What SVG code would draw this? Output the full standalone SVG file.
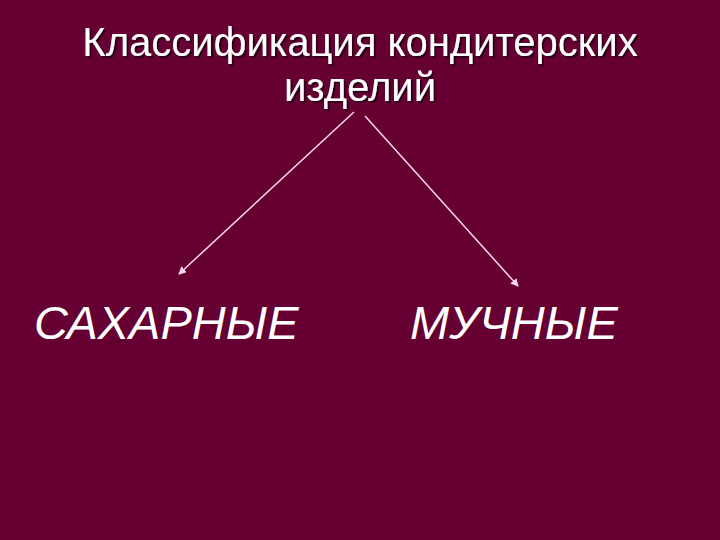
<svg xmlns="http://www.w3.org/2000/svg" width="720" height="540" viewBox="0 0 720 540">
<defs>
<style>
.t{font-family:"Liberation Sans",Arial,sans-serif;fill:#ffffff;}
.c{stroke:#ffd6f0;stroke-width:1.5;fill:none;}
</style>
<filter id="shadow" x="-5%" y="-20%" width="110%" height="140%">
<feDropShadow dx="2" dy="2" stdDeviation="0.6" flood-color="#2a0012" flood-opacity="0.9"/>
</filter>
<marker id="ah" markerWidth="8" markerHeight="8" refX="7" refY="4" orient="auto" markerUnits="userSpaceOnUse">
<path d="M0,0 L8,4 L0,8 z" fill="#ffd6f0"/>
</marker>
</defs>
<rect width="720" height="540" fill="#660033"/>
<g id="title" filter="url(#shadow)">
<text class="t" x="360" y="56" font-size="40" text-anchor="middle">Классификация кондитерских</text>
<text class="t" x="360" y="101" font-size="40" text-anchor="middle">изделий</text>
</g>
<g id="sugar">
<text class="t" x="34" y="339" font-size="47" font-style="italic">САХАРНЫЕ</text>
</g>
<g id="flour">
<text class="t" x="410" y="339" font-size="47" font-style="italic">МУЧНЫЕ</text>
</g>
<g id="connectors">
<line class="c" x1="354" y1="112" x2="179" y2="274" marker-end="url(#ah)"/>
<line class="c" x1="365" y1="116" x2="518" y2="286" marker-end="url(#ah)"/>
</g>
</svg>
